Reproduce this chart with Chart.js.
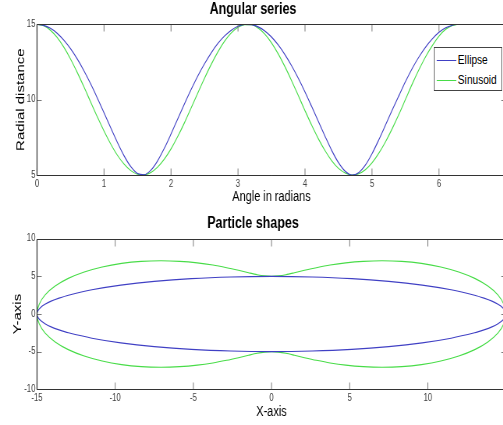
<!doctype html>
<html>

<head>
    <title>Angular series / Particle shapes</title>
    <script src="https://cdn.jsdelivr.net/npm/chart.js@4.4.0/dist/chart.umd.min.js"></script>
    <style>
    html, body { margin: 0; padding: 0; background: #fff; overflow: hidden; }
    #page { position: relative; width: 503px; height: 425px; overflow: hidden; }
    /* the original figure was squeezed sideways, so everything is drawn wide and scaled */
    #sheet { position: absolute; left: 0; top: 0; width: 654px; height: 425px;
        transform: scaleX(0.78); transform-origin: 0 0; }
    canvas { position: absolute; left: 0; }
    #top-chart { top: 0; }
    #bottom-chart { top: 204px; }
    #legend {
        position: absolute; left: 556px; top: 47px; width: 86px; height: 42px;
        border: 1px solid #444; background: #fff;
        font-family: 'Liberation Sans', Arial, sans-serif; font-size: 13px; color: #000;
    }
    #legend .swatch { position: absolute; left: 3px; width: 25px; height: 0; border-top: 1px solid; }
    #legend .label { position: absolute; left: 30px; line-height: 16px; white-space: nowrap; }
    </style>
</head>

<body>
    <div id="page">
        <div id="sheet">
            <canvas id="top-chart" width="654" height="206"></canvas>
            <canvas id="bottom-chart" width="654" height="221"></canvas>
            <div id="legend">
                <span class="swatch" style="top:12px;border-color:#4040c4"></span><span class="label" style="top:4px">Ellipse</span>
                <span class="swatch" style="top:32px;border-color:#48dc48"></span><span class="label" style="top:24px">Sinusoid</span>
            </div>
        </div>
    </div>
    <script>
    // top panel: radial distance against angle
    var angles = [0, 0.1, 0.2, 0.3, 0.4, 0.5, 0.6, 0.7, 0.8, 0.9,
        1.0, 1.1, 1.2, 1.3, 1.4, 1.5, 1.6, 1.7, 1.8, 1.9,
        2.0, 2.1, 2.2, 2.3, 2.4, 2.5, 2.6, 2.7, 2.8, 2.9,
        3.0, 3.1, 3.2, 3.3, 3.4, 3.5, 3.6, 3.7, 3.8, 3.9,
        4.0, 4.1, 4.2, 4.3, 4.4, 4.5, 4.6, 4.7, 4.8, 4.9,
        5.0, 5.1, 5.2, 5.3, 5.4, 5.5, 5.6, 5.7, 5.8, 5.9,
        6.0, 6.1, 6.2, 6.28];
    var ellipseRadius = [15, 14.93, 14.73, 14.41, 13.95, 13.38, 12.70, 11.92, 11.05, 10.11,
        9.13, 8.13, 7.16, 6.27, 5.55, 5.10, 5.02, 5.32, 5.94, 6.77,
        7.72, 8.72, 9.71, 10.67, 11.57, 12.38, 13.11, 13.73, 14.23, 14.61,
        14.87, 14.99, 14.98, 14.83, 14.56, 14.16, 13.63, 12.99, 12.25, 11.42,
        10.51, 9.54, 8.55, 7.56, 6.62, 5.82, 5.25, 5.00, 5.15, 5.65,
        6.41, 7.32, 8.30, 9.29, 10.25, 11.20, 12.07, 12.83, 13.49, 14.03,
        14.47, 14.77, 14.94, 15];
    var sinusoidRadius = [15, 14.90, 14.61, 14.13, 13.48, 12.70, 11.81, 10.85, 9.85, 8.86,
        7.92, 7.06, 6.31, 5.72, 5.29, 5.05, 5.01, 5.17, 5.52, 6.05,
        6.73, 7.55, 8.46, 9.44, 10.44, 11.42, 12.34, 13.17, 13.88, 14.43,
        14.80, 14.98, 14.97, 14.75, 14.35, 13.77, 13.04, 12.19, 11.26, 10.27,
        9.27, 8.30, 7.40, 6.61, 5.94, 5.44, 5.13, 5.00, 5.08, 5.35,
        5.80, 6.43, 7.19, 8.06, 9.01, 10.02, 11.03, 11.98, 12.85, 13.59,
        14.22, 14.67, 14.92, 15];

    // bottom panel: the two closed shapes as x / y points
    var ellipseX = [15, 14.94, 14.77, 14.49, 14.10, 13.59, 12.99, 11.49, 9.64, 7.5, 5.13, 2.60, 0,
        -2.60, -5.13, -7.5, -9.64, -11.49, -12.99, -13.59, -14.10, -14.49, -14.77, -14.94, -15,
        -14.94, -14.77, -14.49, -14.10, -13.59, -12.99, -11.49, -9.64, -7.5, -5.13, -2.60, 0,
        2.60, 5.13, 7.5, 9.64, 11.49, 12.99, 13.59, 14.10, 14.49, 14.77, 14.94, 15];
    var ellipseY = [0, 0.44, 0.87, 1.29, 1.71, 2.11, 2.5, 3.21, 3.83, 4.33, 4.70, 4.92, 5,
        4.92, 4.70, 4.33, 3.83, 3.21, 2.5, 2.11, 1.71, 1.29, 0.87, 0.44, 0,
        -0.44, -0.87, -1.29, -1.71, -2.11, -2.5, -3.21, -3.83, -4.33, -4.70, -4.92, -5,
        -4.92, -4.70, -4.33, -3.83, -3.21, -2.5, -2.11, -1.71, -1.29, -0.87, -0.44, 0];
    var peanutX = [15, 14.86, 14.48, 13.84, 13.00, 11.98, 10.83, 9.59, 8.33, 7.07,
        5.87, 4.75, 3.75, 2.87, 2.11, 1.47, 0.92, 0.44, 0,
        -0.44, -0.92, -1.47, -2.11, -2.87, -3.75, -4.75, -5.87, -7.07,
        -8.33, -9.59, -10.83, -11.98, -13.00, -13.84, -14.48, -14.86, -15,
        -14.86, -14.48, -13.84, -13.00, -11.98, -10.83, -9.59, -8.33, -7.07,
        -5.87, -4.75, -3.75, -2.87, -2.11, -1.47, -0.92, -0.44, 0,
        0.44, 0.92, 1.47, 2.11, 2.87, 3.75, 4.75, 5.87, 7.07,
        8.33, 9.59, 10.83, 11.98, 13.00, 13.84, 14.48, 14.86, 15];
    var peanutY = [0, 1.30, 2.55, 3.71, 4.73, 5.58, 6.25, 6.72, 6.99, 7.07,
        6.99, 6.79, 6.50, 6.15, 5.80, 5.48, 5.22, 5.06, 5,
        5.06, 5.22, 5.48, 5.80, 6.15, 6.50, 6.79, 6.99, 7.07,
        6.99, 6.72, 6.25, 5.58, 4.73, 3.71, 2.55, 1.30, 0,
        -1.30, -2.55, -3.71, -4.73, -5.58, -6.25, -6.72, -6.99, -7.07,
        -6.99, -6.79, -6.50, -6.15, -5.80, -5.48, -5.22, -5.06, -5,
        -5.06, -5.22, -5.48, -5.80, -6.15, -6.50, -6.79, -6.99, -7.07,
        -6.99, -6.72, -6.25, -5.58, -4.73, -3.71, -2.55, -1.30, 0];

    var BLUE = '#4040c4';
    var GREEN = '#48dc48';
    var SANS = "'Liberation Sans', Arial, sans-serif";
    var SQUEEZE = 0.78; // same as the css scaleX on #sheet

    var toPoints = function(xs, ys) {
        return xs.map(function(x, i) { return { x: x, y: ys[i] }; });
    };

    // matlab style box with short inward ticks on all four sides
    var boxPlugin = {
        id: 'box',
        afterDatasetsDraw: function(chart) {
            var ctx = chart.ctx, a = chart.chartArea;
            var xs = chart.scales.x, ys = chart.scales.y;
            var top = Math.round(a.top) + 0.5, bottom = Math.round(a.bottom) + 0.5;
            ctx.save();
            ctx.strokeStyle = '#7a7a7a';
            ctx.lineWidth = 1;
            ctx.beginPath();
            xs.ticks.forEach(function(t) {
                var px = xs.getPixelForValue(t.value);
                ctx.moveTo(px, bottom); ctx.lineTo(px, bottom - 7);
                ctx.moveTo(px, top); ctx.lineTo(px, top + 7);
            });
            ctx.stroke();
            ctx.beginPath();
            ys.ticks.forEach(function(t) {
                var py = Math.round(ys.getPixelForValue(t.value)) + 0.5;
                ctx.moveTo(a.left, py); ctx.lineTo(a.left + 6, py);
                ctx.moveTo(a.right, py); ctx.lineTo(a.right - 6, py);
            });
            ctx.stroke();
            ctx.strokeStyle = '#333';
            ctx.beginPath();
            ctx.moveTo(a.left, top); ctx.lineTo(a.right, top);
            ctx.moveTo(a.left, bottom); ctx.lineTo(a.right, bottom);
            ctx.stroke();
            ctx.lineWidth = 1 / SQUEEZE;
            ctx.beginPath();
            ctx.moveTo(a.left, top); ctx.lineTo(a.left, bottom);
            ctx.moveTo(a.right, top); ctx.lineTo(a.right, bottom);
            ctx.stroke();
            ctx.restore();
        }
    };

    var axisOpts = function(min, max, step, hideLast, titleText, titleSize, titlePad, size, isX) {
        return {
            type: 'linear', min: min, max: max,
            grid: { display: false, drawTicks: false },
            border: { display: false },
            ticks: {
                stepSize: step, padding: isX ? 3 : 2, color: '#404040', maxRotation: 0,
                font: { family: SANS, size: 10 },
                callback: function(v) { return v === hideLast ? '' : v; }
            },
            title: { display: true, text: titleText, color: '#000', font: { family: SANS, size: titleSize }, padding: titlePad },
            afterFit: function(s) { if (isX) { s.height = size; } else { s.width = size; } }
        };
    };

    var baseOptions = function(title, titlePad, xAxis, yAxis) {
        return {
            responsive: false,
            animation: false,
            devicePixelRatio: 1,
            layout: { padding: { left: 0, right: 5.3, top: 0, bottom: 0 } },
            elements: { point: { radius: 0 } },
            plugins: {
                legend: { display: false },
                tooltip: { enabled: false },
                title: {
                    display: true, text: title, color: '#000',
                    font: { family: SANS, size: 16, weight: 'bold' },
                    padding: titlePad
                }
            },
            scales: { x: xAxis, y: yAxis }
        };
    };

    window.onload = function() {
        new Chart(document.getElementById('top-chart').getContext('2d'), {
            type: 'scatter',
            data: {
                datasets: [{
                    label: 'Ellipse', data: toPoints(angles, ellipseRadius), showLine: true,
                    borderColor: BLUE, borderWidth: 1.1, cubicInterpolationMode: 'monotone'
                }, {
                    label: 'Sinusoid', data: toPoints(angles, sinusoidRadius), showLine: true,
                    borderColor: GREEN, borderWidth: 1.1, cubicInterpolationMode: 'monotone'
                }]
            },
            options: baseOptions('Angular series', { top: 0, bottom: 5.1 },
                axisOpts(0, 7, 1, 7, 'Angle in radians', 14, { top: 0, bottom: 0 }, 31, true),
                axisOpts(5, 15, 5, null, 'Radial distance', 15, { top: 17.7, bottom: 0 }, 47.44, false)),
            plugins: [boxPlugin]
        });

        new Chart(document.getElementById('bottom-chart').getContext('2d'), {
            type: 'scatter',
            data: {
                datasets: [{
                    label: 'Ellipse', data: toPoints(ellipseX, ellipseY), showLine: true,
                    borderColor: BLUE, borderWidth: 1.1, tension: 0.3
                }, {
                    label: 'Sinusoid', data: toPoints(peanutX, peanutY), showLine: true,
                    borderColor: GREEN, borderWidth: 1.1, tension: 0.3
                }]
            },
            options: baseOptions('Particle shapes', { top: 10.4, bottom: 5.1 },
                axisOpts(-15, 15, 5, 15, 'X-axis', 14, { top: 0, bottom: 4.1 }, 35.7, true),
                axisOpts(-10, 10, 5, null, 'Y-axis', 15, { top: 14.1, bottom: 0 }, 47.44, false)),
            plugins: [boxPlugin]
        });
    };
    </script>
</body>

</html>
